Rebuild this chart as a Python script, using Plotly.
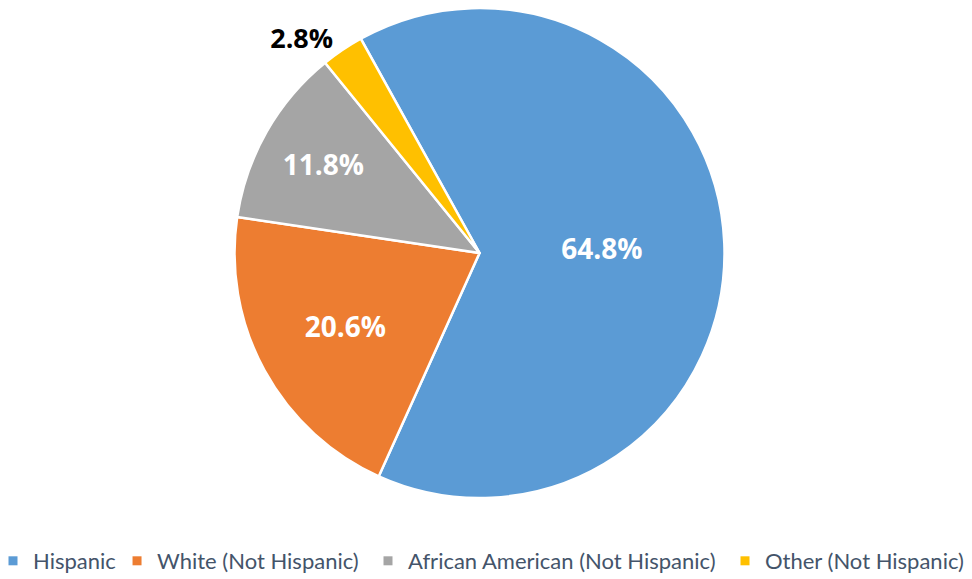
import plotly.graph_objects as go

categories = ["Hispanic", "White (Not Hispanic)", "African American (Not Hispanic)", "Other (Not Hispanic)"]
values = [64.8, 20.6, 11.8, 2.8]
colors = ["#5B9BD5", "#ED7D31", "#A5A5A5", "#FFC000"]
text_positions = ["inside", "inside", "inside", "outside"]
legend_x = [0.0, 0.1276, 0.3858, 0.7531]   # container fractions for legend entries

fig = go.Figure()
fig.add_trace(go.Pie(
    labels=categories,
    values=values,
    sort=False,
    direction="clockwise",
    rotation=-29,
    domain=dict(x=[0, 0.9702], y=[0.1537, 1]),
    marker=dict(colors=colors, line=dict(color="white", width=2.5)),
    texttemplate="%{value:.1f}%",
    textposition=text_positions,
    insidetextorientation="horizontal",
    insidetextfont=dict(family="Open Sans", size=28, color="white", weight="bold"),
    outsidetextfont=dict(family="Open Sans", size=27, color="black", weight="bold"),
    hoverinfo="label+percent",
    showlegend=False,
))

legend_layouts = {}
for i, (name, col) in enumerate(zip(categories, colors)):
    key = "legend" if i == 0 else f"legend{i + 1}"
    fig.add_trace(go.Scatter(
        x=[None], y=[None], mode="markers", name=name,
        marker=dict(symbol="square", size=9, color=col),
        legend=key, showlegend=True, hoverinfo="skip",
    ))
    legend_layouts[key] = dict(
        xref="container", yref="container",
        x=legend_x[i], xanchor="left",
        y=1 - 553 / 579, yanchor="middle",
        bgcolor="rgba(0,0,0,0)",
        font=dict(family="Lato", size=22, color="#44546A"),
        itemwidth=30,
        indentation=-15,
        visible=True,
    )

fig.update_layout(
    width=972, height=579,
    paper_bgcolor="white", plot_bgcolor="white",
    showlegend=True,
    margin=dict(l=0, r=0, t=0, b=0, autoexpand=False),
    xaxis=dict(visible=False, domain=[0, 0.01]),
    yaxis=dict(visible=False, domain=[0, 0.01]),
    **legend_layouts,
)

fig.write_html("out.html")
